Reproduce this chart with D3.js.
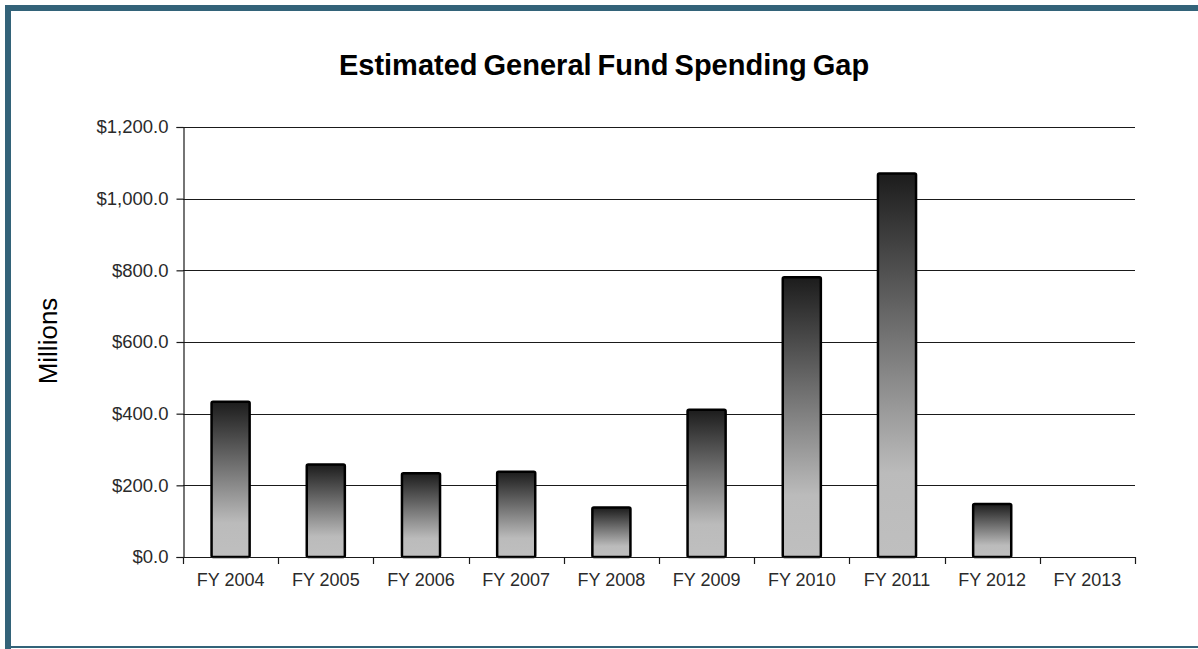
<!DOCTYPE html>
<html>
<head>
<meta charset="utf-8">
<script src="https://cdn.jsdelivr.net/npm/d3@7"></script>
<style>
  html, body { margin: 0; padding: 0; background: #fff; }
  svg { display: block; }
</style>
</head>
<body>
<script>
// Fiscal years and estimated spending gap ($ millions)
const categories = ["FY 2004", "FY 2005", "FY 2006", "FY 2007", "FY 2008",
                    "FY 2009", "FY 2010", "FY 2011", "FY 2012", "FY 2013"];
const gapValues = [433, 258, 234, 238, 138, 411, 781, 1070, 148, 0];
const yTicks = [0, 200, 400, 600, 800, 1000, 1200];

const W = 1198, H = 649;
const svg = d3.select("body").append("svg").attr("width", W).attr("height", H);

// Frame
const frameColor = "#336379";
svg.append("rect").attr("x", 5).attr("y", 5).attr("width", W - 5).attr("height", 6).attr("fill", frameColor);
svg.append("rect").attr("x", 5).attr("y", 5).attr("width", 6).attr("height", H - 5).attr("fill", frameColor);
svg.append("rect").attr("x", 5).attr("y", 646).attr("width", W - 5).attr("height", 2).attr("fill", frameColor);

const plot = { left: 183, right: 1135, top: 127, bottom: 557 };

const x = d3.scaleBand().domain(categories)
  .range([plot.left, plot.right]).paddingInner(0.6).paddingOuter(0.3);
const y = d3.scaleLinear().domain([0, 1200]).range([plot.bottom, plot.top]);

// Bar gradient: dark top fading to light grey
const defs = svg.append("defs");
const grad = defs.append("linearGradient").attr("id", "barFill")
  .attr("x1", 0).attr("y1", 0).attr("x2", 0).attr("y2", 1);
grad.append("stop").attr("offset", "0%").attr("stop-color", "#1c1c1c");
grad.append("stop").attr("offset", "40%").attr("stop-color", "#6e6e6e");
grad.append("stop").attr("offset", "78%").attr("stop-color", "#bbbbbb");
grad.append("stop").attr("offset", "100%").attr("stop-color", "#bfbfbf");

// Title
svg.append("text").attr("x", 604).attr("y", 75)
  .attr("text-anchor", "middle")
  .attr("font-family", "Liberation Sans, Arial, sans-serif")
  .attr("font-weight", "bold").attr("font-size", 29).attr("fill", "#000")
  .attr("word-spacing", -2)
  .text("Estimated General Fund Spending Gap");

// Y axis label
svg.append("text")
  .attr("transform", "translate(57,341) rotate(-90)")
  .attr("text-anchor", "middle")
  .attr("font-family", "Liberation Sans, Arial, sans-serif")
  .attr("font-size", 26).attr("fill", "#000")
  .text("Millions");

// Horizontal gridlines
svg.append("g").selectAll("line").data(yTicks.filter(d => d > 0)).join("line")
  .attr("x1", plot.left).attr("x2", plot.right)
  .attr("y1", d => Math.round(y(d)) + 0.5).attr("y2", d => Math.round(y(d)) + 0.5)
  .attr("stroke", "#1a1a1a").attr("stroke-width", 1.2);

// Y axis
const yAxis = d3.axisLeft(y).tickValues(yTicks).tickSize(7).tickPadding(8)
  .tickFormat(d => "$" + d3.format(",.1f")(d));
const gy = svg.append("g").attr("transform", `translate(${plot.left + 0.5},0)`).call(yAxis);
gy.select(".domain").attr("stroke", "#1a1a1a").attr("stroke-width", 1.2);
gy.selectAll(".tick line").attr("stroke", "#1a1a1a").attr("stroke-width", 1.2);
gy.selectAll(".tick text")
  .attr("font-family", "Liberation Sans, Arial, sans-serif")
  .attr("font-size", 18.5).attr("fill", "#2a2a2a");

// Bars
svg.append("g").selectAll("rect").data(categories.map((c, i) => ({ c, v: gapValues[i] })))
  .join("rect")
  .filter(d => d.v > 0)
  .attr("x", d => x(d.c))
  .attr("y", d => y(d.v))
  .attr("width", x.bandwidth())
  .attr("height", d => y(0) - y(d.v))
  .attr("rx", 1.5)
  .attr("fill", "url(#barFill)")
  .attr("stroke", "#000").attr("stroke-width", 2.5);

// X axis with ticks at category boundaries
const gx = svg.append("g");
gx.append("line")
  .attr("x1", plot.left).attr("x2", plot.right)
  .attr("y1", plot.bottom + 0.5).attr("y2", plot.bottom + 0.5)
  .attr("stroke", "#1a1a1a").attr("stroke-width", 1.2);
const step = x.step();
const bounds = d3.range(categories.length + 1).map(i => plot.left + i * step);
gx.selectAll(".bt").data(bounds).join("line").attr("class", "bt")
  .attr("x1", d => Math.round(d) + 0.5).attr("x2", d => Math.round(d) + 0.5)
  .attr("y1", plot.bottom).attr("y2", plot.bottom + 7)
  .attr("stroke", "#1a1a1a").attr("stroke-width", 1.2);
gx.selectAll("text").data(categories).join("text")
  .attr("x", d => x(d) + x.bandwidth() / 2)
  .attr("y", 586)
  .attr("text-anchor", "middle")
  .attr("font-family", "Liberation Sans, Arial, sans-serif")
  .attr("font-size", 18).attr("fill", "#2a2a2a")
  .text(d => d);
</script>
</body>
</html>
